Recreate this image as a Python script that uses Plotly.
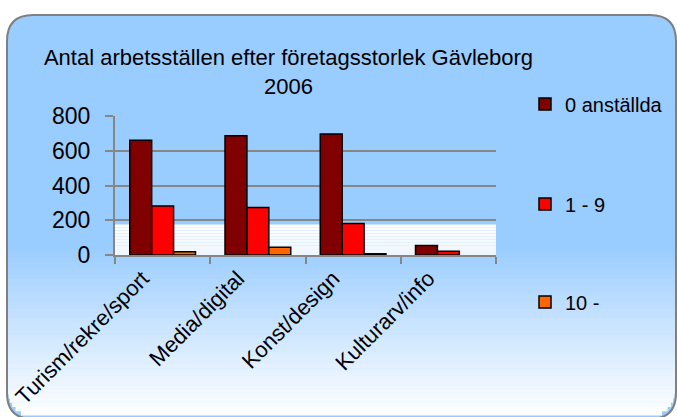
import plotly.graph_objects as go

# data
categories = ["Turism/rekre/sport", "Media/digital", "Konst/design", "Kulturarv/info"]
anst_0 = [660, 686, 697, 55]
anst_1_9 = [282, 273, 181, 21]
anst_10 = [19, 44, 7, None]  # no visible bar for Kulturarv/info
series_names = ["0 anställda", "1 - 9", "10 -"]
y_ticks = [0, 200, 400, 600, 800]

W, H = 677, 417
# plot area in pixels
PX0, PX1, PY0, PY1 = 115, 496, 116, 255
PW = PX1 - PX0
PH = PY1 - PY0
ML, MT = PX0, PY0
MR, MB = W - ML - PW, H - MT - PH


def fx(px):
    return (px - PX0) / PW


def fy(py):
    return (PY1 - py) / PH


def rounded_path(x0, y0, x1, y1, r):
    # pixel box -> paper path with rounded corners
    pts = [
        f"M{fx(x0 + r)},{fy(y0)}",
        f"L{fx(x1 - r)},{fy(y0)}",
        f"Q{fx(x1)},{fy(y0)} {fx(x1)},{fy(y0 + r)}",
        f"L{fx(x1)},{fy(y1 - r)}",
        f"Q{fx(x1)},{fy(y1)} {fx(x1 - r)},{fy(y1)}",
        f"L{fx(x0 + r)},{fy(y1)}",
        f"Q{fx(x0)},{fy(y1)} {fx(x0)},{fy(y1 - r)}",
        f"L{fx(x0)},{fy(y0 + r)}",
        f"Q{fx(x0)},{fy(y0)} {fx(x0 + r)},{fy(y0)}",
        "Z",
    ]
    return " ".join(pts)


BX0, BY0, BX1, BY1, RAD = 7, 15, 676, 419, 26
shapes = [dict(type="path", xref="paper", yref="paper", layer="below",
               path=rounded_path(BX0, BY0, BX1, BY1, RAD),
               fillcolor="#99CCFF", line=dict(width=0))]

# gradient from light blue to white towards the bottom
g_top, g_bot, n = 245, 415, 40
c0 = (0x99, 0xCC, 0xFF)
c1 = (0xFF, 0xFF, 0xFF)
step = (g_bot - g_top) / n
for i in range(n):
    ya = g_top + i * step
    yb = ya + step + 0.5
    t = (i + 0.5) / n
    col = "rgb(%d,%d,%d)" % tuple(round(a + (b - a) * t) for a, b in zip(c0, c1))
    inset = 0
    yc = BY1 - RAD
    if yb > yc:
        d = min(yb - yc, RAD)
        inset = RAD - (RAD ** 2 - d ** 2) ** 0.5
    shapes.append(dict(type="rect", xref="paper", yref="paper", layer="below",
                       x0=fx(BX0 + 1 + inset), x1=fx(BX1 - 1 - inset),
                       y0=fy(yb), y1=fy(ya), fillcolor=col, line=dict(width=0)))

# faint blue at the bottom of the plot area
for i in range(10):
    t = (i + 1) / 10
    col = "rgb(%d,%d,%d)" % (round(255 - 16 * t), round(255 - 9 * t), 254)
    shapes.append(dict(type="rect", xref="x domain", yref="y domain", layer="below",
                       x0=0, x1=1, y0=(10 - i - 1) / 10 * 0.22, y1=(10 - i) / 10 * 0.22,
                       fillcolor=col, line=dict(width=0)))

shapes.append(dict(type="path", xref="paper", yref="paper", layer="below",
                   path=rounded_path(BX0, BY0, BX1, BY1, RAD),
                   fillcolor="rgba(0,0,0,0)", line=dict(color="#808080", width=2)))

colors = ["#800000", "#FF0000", "#FF6600"]
legends = ["legend", "legend2", "legend3"]

fig = go.Figure()
for vals, name, col, lg in zip([anst_0, anst_1_9, anst_10], series_names, colors, legends):
    fig.add_trace(go.Bar(x=categories, y=vals, name=name, legend=lg, showlegend=True,
                         marker=dict(color=col, line=dict(color="black", width=1.5))))

leg_font = dict(family="Liberation Sans, Arial", size=20, color="black")
leg_common = dict(xref="container", yref="container", xanchor="left", yanchor="middle",
                  bgcolor="rgba(0,0,0,0)", borderwidth=0, font=leg_font)

fig.update_layout(
    width=W, height=H,
    margin=dict(l=ML, r=MR, t=MT, b=MB, pad=0, autoexpand=False),
    paper_bgcolor="white",
    plot_bgcolor="white",
    showlegend=True,
    barmode="group",
    bargap=0.31,
    bargroupgap=0,
    font=dict(family="Liberation Sans, Arial", color="black"),
    title=dict(text="Antal arbetsställen efter företagsstorlek Gävleborg<br>2006",
               xref="container", yref="container", x=288.5 / W, xanchor="center",
               y=1 - 65 / H, yanchor="top",
               font=dict(family="Liberation Sans, Arial", size=22, color="black")),
    legend=dict(x=525 / W, y=1 - 104 / H, **leg_common),
    legend2=dict(x=525 / W, y=1 - 204 / H, **leg_common),
    legend3=dict(x=525 / W, y=1 - 302 / H, **leg_common),
    shapes=shapes,
)

fig.update_yaxes(range=[0, 800], tickvals=y_ticks, showgrid=True, gridcolor="#868686",
                 gridwidth=2, showline=True, linecolor="#868686", linewidth=2,
                 ticks="outside", ticklen=8, tickwidth=2, tickcolor="#868686",
                 ticklabelstandoff=10, zeroline=False, automargin=False,
                 tickfont=dict(family="Liberation Sans, Arial", size=23, color="black"))
fig.update_xaxes(showline=True, linecolor="#868686", linewidth=2, ticks="outside",
                 tickson="boundaries", ticklen=7, tickwidth=2, tickcolor="#868686",
                 tickangle=-45, showgrid=False, automargin=False, ticklabelshift=-20,
                 tickfont=dict(family="Liberation Sans, Arial", size=22, color="black"))

# drop the default body margin so the figure sits at the top-left corner
fig.write_html("out.html", config={"displayModeBar": False},
               post_script="document.body.style.margin='0px';")
